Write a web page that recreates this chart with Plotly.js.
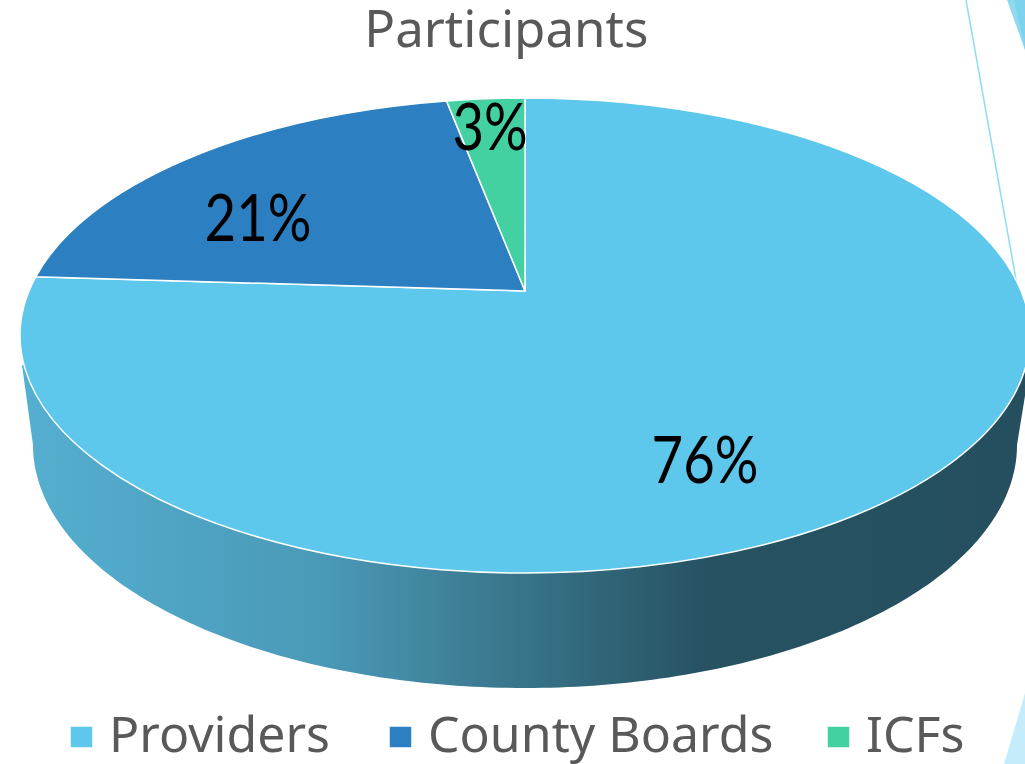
<!DOCTYPE html>
<html>
<head>
<meta charset="utf-8">
<script src="https://cdn.plot.ly/plotly-3.0.1.min.js"></script>
<style>html,body{margin:0;padding:0;background:#fff;overflow:hidden}#chart{width:1025px;height:764px}</style>
</head>
<body>
<div id="chart"></div>
<script>
var categories = ["Providers", "County Boards", "ICFs"];
var shares = [76, 21, 3];
var sliceColors = ["#5DC8EC", "#2C80C1", "#43D1A1"];
var labelAnchors = [[705, 483], [258, 241], [490, 150]];
var legendSwatchCenters = [81.5, 400.5, 838.5];

// perspective tilt of the disc
var apexX = 525, apexY = 291, radiusX = 496, radiusY = 229.2, tilt = 0.1876;
var capCy = 335.5, capRx = 505, capRy = 237.5;

function project(frac) {
  var a = frac * 2 * Math.PI, u = Math.sin(a), v = Math.cos(a), w = 1 + tilt * v;
  return [apexX + radiusX * u / w, apexY - radiusY * v / w];
}

// side wall of the disc
var wallX = [22], wallY = [365];
for (var deg = 180; deg >= 0; deg -= 1) {
  wallX.push(525 + 492 * Math.cos(deg * Math.PI / 180));
  wallY.push(445 + 243 * Math.sin(deg * Math.PI / 180));
}
wallX.push(1030); wallY.push(365);

var textFont = "'Noto Sans', sans-serif";

var traces = [
  {type: "scatter", mode: "none", x: wallX, y: wallY, fill: "toself", showlegend: false, hoverinfo: "skip",
   fillgradient: {type: "horizontal", colorscale: [[0, "#55AFD0"], [0.3, "#4A99B7"], [0.5, "#387388"], [0.68, "#265262"], [1, "#254F5F"]]}},
  {type: "pie", labels: categories, values: shares, sort: false, direction: "clockwise", rotation: 0,
   marker: {colors: sliceColors, line: {color: "#FFFFFF", width: 1.5}},
   textinfo: "percent", textposition: "inside", insidetextorientation: "horizontal",
   textfont: {family: "Lato, sans-serif", size: 66, color: "#000000"},
   domain: {x: [0.2, 0.8], y: [0.2, 0.8]}, hoverinfo: "label+percent"}
];

var layout = {
  width: 1025, height: 764, margin: {l: 0, r: 0, t: 0, b: 0}, paper_bgcolor: "#fff", plot_bgcolor: "#fff",
  font: {family: textFont, color: "#595959"},
  title: {text: "Participants", font: {family: textFont, size: 51, color: "#595959"}, x: 0.494, xanchor: "center", y: 0.962, yanchor: "middle"},
  xaxis: {range: [0, 1025], visible: false, fixedrange: true},
  yaxis: {range: [764, 0], visible: false, fixedrange: true},
  showlegend: true,
  legend: {orientation: "h", x: 0, xanchor: "left", y: 0, yanchor: "bottom", bgcolor: "rgba(0,0,0,0)", font: {family: textFont, size: 50, color: "#595959"}, traceorder: "normal"},
  shapes: [
    {type: "path", xref: "x", yref: "y", path: "M1007,0 L1025,50 L1025,0 Z", fillcolor: "#8FD9F1", line: {width: 0}, layer: "below"},
    {type: "path", xref: "x", yref: "y", path: "M1014,0 L1025,50 L1025,0 Z", fillcolor: "#7DD3EE", line: {width: 0}, layer: "below"},
    {type: "line", xref: "x", yref: "y", x0: 966, y0: 0, x1: 1017, y1: 285, line: {color: "#8FDCF3", width: 1.5}, layer: "below"},
    {type: "path", xref: "x", yref: "y", path: "M1025,693 L1004,764 L1025,764 Z", fillcolor: "#C5ECFA", line: {width: 0}, layer: "below"}
  ]
};

var gd = document.getElementById("chart");
function reshape() {
  var total = shares.reduce(function (s, v) { return s + v; }, 0), run = 0;
  var paths = gd.querySelectorAll(".pielayer .slice path.surface");
  var texts = gd.querySelectorAll(".pielayer .slice text.slicetext");
  shares.forEach(function (val, i) {
    var p0 = project(run / total), p1 = project((run + val) / total);
    var large = val / total > 0.5 ? 1 : 0;
    if (paths[i]) {
      paths[i].setAttribute("d", "M" + apexX + "," + apexY + "L" + p0[0] + "," + p0[1] +
        "A" + capRx + "," + capRy + " 0 " + large + " 1 " + p1[0] + "," + p1[1] + "Z");
      paths[i].removeAttribute("transform");
    }
    if (texts[i]) {
      texts[i].setAttribute("transform", "translate(" + labelAnchors[i][0] + "," + labelAnchors[i][1] + ") scale(0.825,1)");
      texts[i].setAttribute("text-anchor", "middle");
      texts[i].querySelectorAll("tspan").forEach(function (t) { t.setAttribute("x", 0); t.setAttribute("y", 0); });
      texts[i].setAttribute("x", 0); texts[i].setAttribute("y", 0);
    }
    run += val;
  });
  var legend = gd.querySelector(".legend");
  var scroll = gd.querySelector(".legend .scrollbox");
  if (legend) legend.setAttribute("transform", "translate(0,0)");
  if (scroll) { scroll.removeAttribute("clip-path"); scroll.style.clipPath = "none"; scroll.setAttribute("transform", "translate(0,0)"); }
  gd.querySelectorAll(".legend .traces").forEach(function (g, i) {
    g.setAttribute("transform", "translate(" + (legendSwatchCenters[i] - 20) + ",737)");
    var sw = g.querySelector(".legendpoints path");
    if (sw) sw.setAttribute("d", "M11.5,11H-11.5V-11H11.5Z");
    var t = g.querySelector("text.legendtext");
    if (t) {
      t.setAttribute("x", 47.5); t.setAttribute("y", 15);
      t.querySelectorAll("tspan").forEach(function (s) { s.setAttribute("x", 47.5); s.setAttribute("y", 15); });
    }
  });
}
Plotly.newPlot(gd, traces, layout, {displayModeBar: false, staticPlot: true}).then(reshape);
</script>
</body>
</html>
